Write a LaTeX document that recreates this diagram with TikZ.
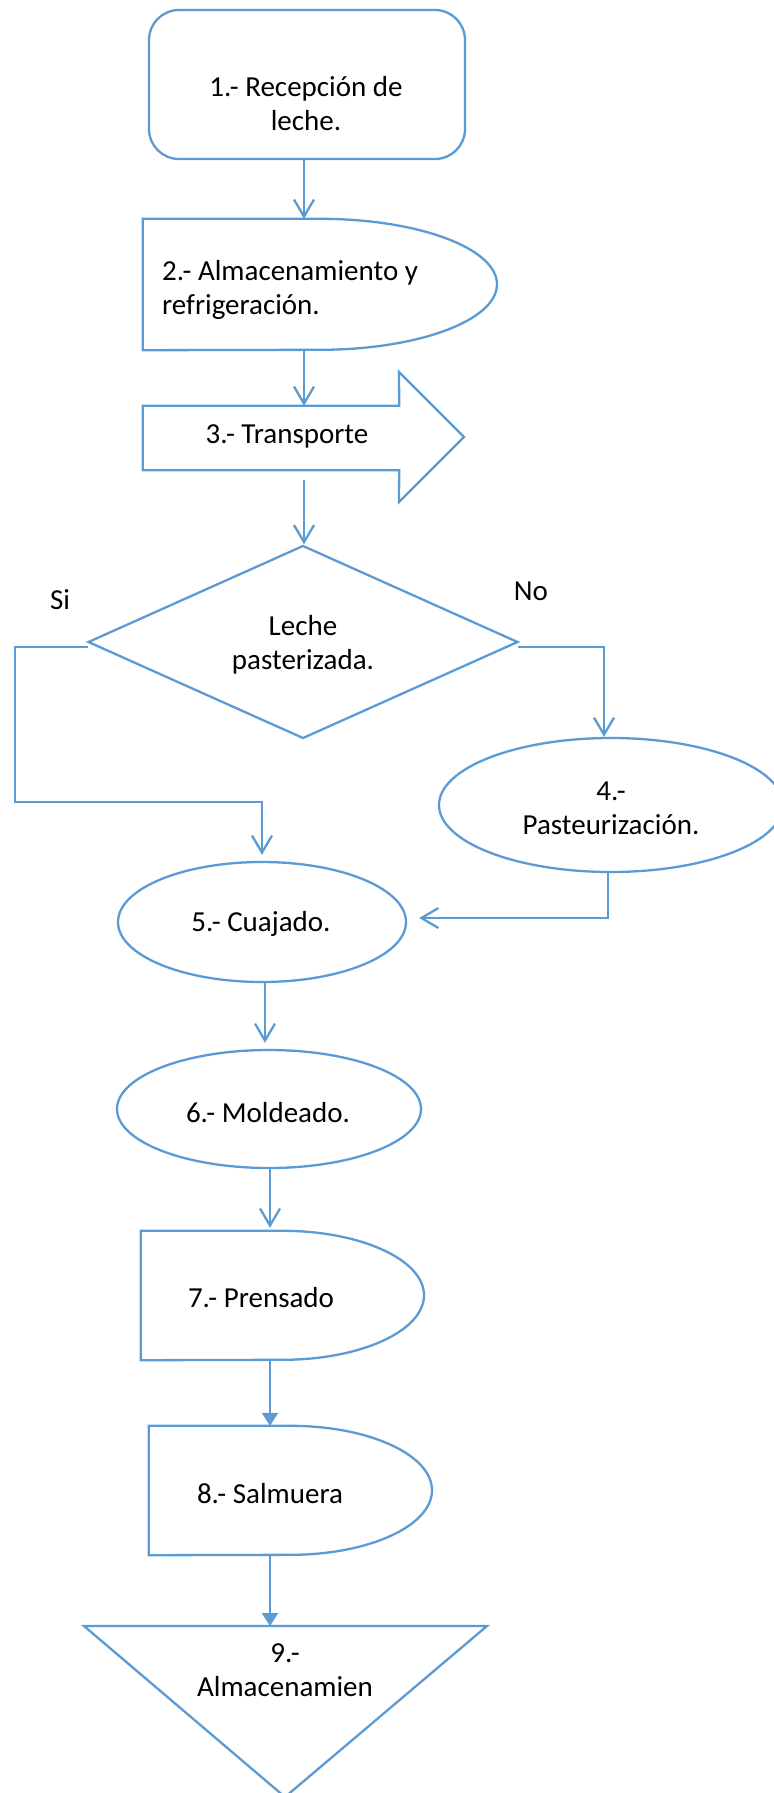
\documentclass[tikz,border=0pt]{standalone}
\usepackage{fontspec}
\setmainfont{Carlito}
\usetikzlibrary{arrows.meta,shapes.geometric,calc}
\definecolor{lineblue}{RGB}{91,155,213}
\begin{document}
\begin{tikzpicture}[x=1bp,y=1bp,
  shp/.style={draw=lineblue, line width=2.3bp},
  arr/.style={color=lineblue, line width=2.3bp, -{Straight Barb[length=17bp,width=20bp]}},
  arrf/.style={color=lineblue, line width=2.3bp, -{Triangle[length=13bp,width=16bp]}},
  txt/.style={font=\fontsize{29bp}{34bp}\selectfont, inner sep=0pt, align=center, text=black},
  box/.style={inner sep=0pt, draw=none, rectangle}]
\clip (0,0) rectangle (774,-1793);
\fill[white] (0,0) rectangle (774,-1793);

% column coordinates
\coordinate (c1) at (304,0);
\coordinate (c3) at (265,0);
\coordinate (c2) at (270,0);

% 1
\node[shp, rectangle, rounded corners=30bp, minimum width=316bp, minimum height=149bp, inner sep=0pt] (b1) at (307,-84.5) {};
\node[txt] (t1) at (306,-104) {1.- Recepción de\\leche.};

% 2
\node[box, minimum width=354bp, minimum height=131bp] (b2) at (320,-284.5) {};
\draw[shp] (b2.north) arc[start angle=90,end angle=-90,x radius=177bp,y radius=65.5bp] -- (b2.south west) -- (b2.north west) -- cycle;
\node[txt, anchor=west, align=left] (t2) at (162,-290) {2.- Almacenamiento y\\refrigeración.};

% 3
\node[box, minimum width=256bp, minimum height=64bp] (b3) at (271,-438) {};
\draw[shp] (b3.north west) -- (b3.north east) -- (399,-372) -- (464,-437) -- (399,-502) -- (b3.south east) -- (b3.south west) -- cycle;
\node[txt] (t3) at (287,-436) {3.- Transporte};

% decision
\node[shp, diamond, minimum width=430bp, minimum height=193bp, inner sep=0pt] (D) at (303,-642) {};
\node[txt] (tD) at (303,-645) {Leche\\pasterizada.};
\node[txt] (si) at (60,-600) {Si};
\node[txt] (no) at (531,-591) {No};

% 4
\node[shp, ellipse, minimum width=344bp, minimum height=134bp, inner sep=0pt] (E4) at (611,-805) {};
\node[txt] (t4) at (611,-808) {4.-\\Pasteurización.};

% 5
\node[shp, ellipse, minimum width=288bp, minimum height=120bp, inner sep=0pt] (E5) at (262,-922) {};
\node[txt] (t5) at (261,-924) {5.- Cuajado.};

% 6
\node[shp, ellipse, minimum width=304bp, minimum height=118bp, inner sep=0pt] (E6) at (269,-1109) {};
\node[txt] (t6) at (268,-1113) {6.- Moldeado.};

% 7
\node[box, minimum width=283bp, minimum height=129bp] (b7) at (282.5,-1295.5) {};
\draw[shp] (b7.north) arc[start angle=90,end angle=-90,x radius=141.5bp,y radius=64.5bp] -- (b7.south west) -- (b7.north west) -- cycle;
\node[txt] (t7) at (261,-1298) {7.- Prensado};

% 8
\node[box, minimum width=283bp, minimum height=129bp] (b8) at (290.5,-1490.5) {};
\draw[shp] (b8.north) arc[start angle=90,end angle=-90,x radius=141.5bp,y radius=64.5bp] -- (b8.south west) -- (b8.north west) -- cycle;
\node[txt] (t8) at (270,-1494) {8.- Salmuera};

% 9
\coordinate (t9L) at (84,-1626);
\coordinate (t9R) at (487,-1626);
\coordinate (t9B) at (285,-1797);
\draw[shp] (t9L) -- (t9R) -- (t9B) -- cycle;
\node[txt] (t9txt) at (285,-1670) {9.-\\Almacenamien};
\coordinate (t9) at (270,-1626);

% connectors
\draw[arr] (b1.south -| c1) -- (b2.north -| c1);
\draw[arr] (b2.south -| c1) -- (b3.north -| c1);
\draw[arr] ($(b3.south -| c1)+(0,-10)$) -- (D.north -| c1);

\coordinate (siA) at (15,-647);
\coordinate (siB) at (15,-802);
\draw[arr] ($(D.west)+(1,-5)$) -- (siA) -- (siB) -| ($(E5.north)+(0,6)$);

\coordinate (noX) at (604,-647);
\draw[arr] ($(D.east)+(-1,-5)$) -- (noX) -- (E4.north -| noX);

\coordinate (fx) at (608,0);
\draw[arr] (E4.south -| fx) |- ($(E5.east)+(12,4)$);

\draw[arr] (E5.south -| c3) -- ($(E6.north -| c3)+(0,6)$);
\draw[arr] (E6.south -| c2) -- ($(b7.north -| c2)+(0,3)$);
\draw[arrf] (b7.south -| c2) -- (b8.north -| c2);
\draw[arrf] (b8.south -| c2) -- (t9);
\end{tikzpicture}
\end{document}
